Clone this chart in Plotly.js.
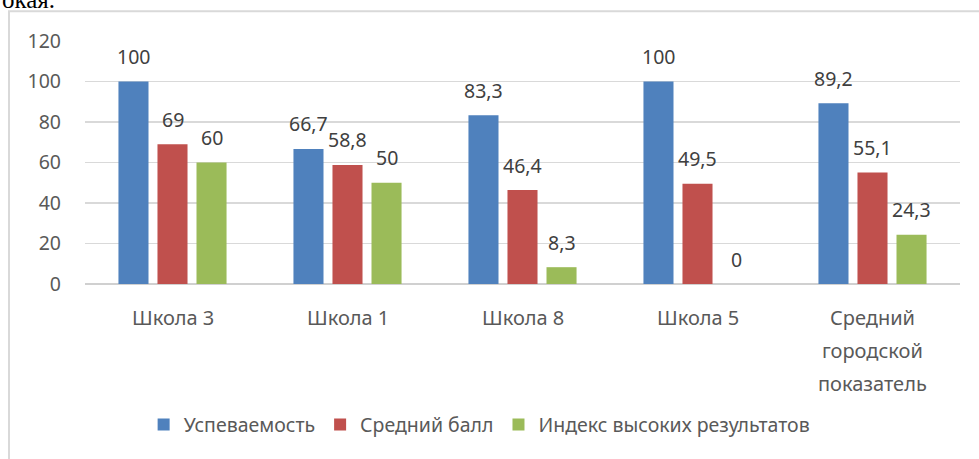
<!DOCTYPE html>
<html>
<head>
<meta charset="utf-8">
<script src="https://cdn.plot.ly/plotly-3.0.1.min.js"></script>
<style>html,body{margin:0;padding:0;background:#fff;} #chart{width:979px;height:459px;}</style>
</head>
<body>
<div id="chart"></div>
<script>
const categories = ["Школа 3", "Школа 1", "Школа 8", "Школа 5", "Средний<br>городской<br>показатель"];
const seriesNames = ["Успеваемость", "Средний балл", "Индекс высоких результатов"];
const uspevaemost = [100, 66.7, 83.3, 100, 89.2];
const sredniyBall = [69, 58.8, 46.4, 49.5, 55.1];
const indeks = [60, 50, 8.3, 0, 24.3];
const yTicks = [0, 20, 40, 60, 80, 100, 120];
const colors = ["#4f81bd", "#c0504d", "#9bbb59"];

const FONT = "Noto Sans, Open Sans, sans-serif";
const allSeries = [uspevaemost, sredniyBall, indeks];
const fmt = v => String(v).replace('.', ',');

const traces = allSeries.map((vals, i) => ({
  type: 'bar',
  name: seriesNames[i],
  x: categories,
  y: vals,
  marker: {color: colors[i]},
  hoverinfo: 'none'
}));

const annotations = [];
const slotPx = 39;
allSeries.forEach((vals, i) => {
  vals.forEach((v, j) => {
    annotations.push({
      xref: 'x', yref: 'y', x: categories[j], y: v,
      text: fmt(v), showarrow: false,
      xshift: (i - 1) * slotPx, yshift: 25,
      xanchor: 'center', yanchor: 'middle',
      font: {family: FONT, size: 19.5, color: '#404040'}
    });
  });
});
categories.forEach((c, j) => {
  c.split('<br>').forEach((line, k) => {
    annotations.push({
      xref: 'x', yref: 'paper', x: c, y: 0,
      text: line, showarrow: false,
      yshift: -33 - 33 * k, xanchor: 'center', yanchor: 'middle',
      font: {family: FONT, size: 20, color: '#595959'}
    });
  });
});
// page text fragment above the chart frame (cut at the top edge, as in the reference)
annotations.push({
  xref: 'paper', yref: 'paper', x: -0.0971, y: (284 + 1) / 243.3,
  xanchor: 'left', yanchor: 'middle', showarrow: false,
  text: 'окая.', font: {family: 'Liberation Serif, serif', size: 25, color: '#000'}
});

const layout = {
  width: 979, height: 459,
  margin: {l: 85, r: 19, t: 40.7, b: 175, pad: 0},
  paper_bgcolor: '#fff', plot_bgcolor: '#fff',
  barmode: 'group', bargap: 0.331, bargroupgap: 0.23,
  showlegend: true,
  legend: {orientation: 'h', x: 0.451, y: -0.58, xanchor: 'center', yanchor: 'middle',
           font: {family: FONT, size: 19.5, color: '#595959'}, itemclick: false, itemwidth: 30},
  xaxis: {showticklabels: false, showgrid: false, zeroline: false, showline: false, ticks: '', fixedrange: true},
  yaxis: {range: [0, 120], tickvals: yTicks, ticktext: yTicks.map(String), ticks: '',
          showgrid: true, gridcolor: '#d9d9d9', gridwidth: 1.5,
          zeroline: true, zerolinecolor: '#d0d0d0', zerolinewidth: 1.5,
          showline: false, ticklabelstandoff: 23,
          tickfont: {family: FONT, size: 19.5, color: '#595959'}, fixedrange: true},
  annotations: annotations,
  shapes: [{
    type: 'rect', xref: 'paper', yref: 'paper',
    x0: (9 - 85) / 875, x1: (995 - 85) / 875,
    y0: (284 - 480) / 243.3, y1: (284 - 11) / 243.3,
    line: {color: '#d9d9d9', width: 2}, fillcolor: 'rgba(0,0,0,0)'
  }]
};

Plotly.newPlot('chart', traces, layout, {displayModeBar: false, staticPlot: true});
</script>
</body>
</html>
